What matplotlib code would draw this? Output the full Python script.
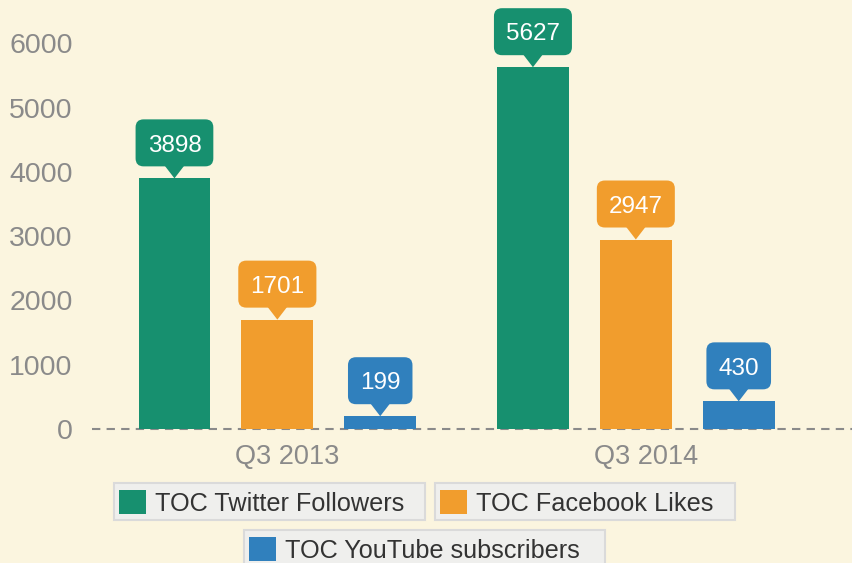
import matplotlib.pyplot as plt
import matplotlib.transforms as mtransforms
from matplotlib.patches import Polygon, FancyBboxPatch, Rectangle
import numpy as np

plt.rcParams['font.family'] = ['Liberation Sans', 'DejaVu Sans']

# data
quarters = ['Q3 2013', 'Q3 2014']
series_names = ['TOC Twitter Followers', 'TOC Facebook Likes', 'TOC YouTube subscribers']
twitter = [3898, 5627]
facebook = [1701, 2947]
youtube = [199, 430]
colors = ['#17906f', '#f19d2d', '#3080bd']

bg = '#fbf5df'
W, H = 852, 563

fig = plt.figure(figsize=(8.52, 5.63), dpi=100, facecolor=bg)
ax = fig.add_axes([92 / W, (H - 429) / H, (W - 92) / W, 429 / H])
ax.set_facecolor('none')

group_x = np.arange(len(quarters))
bar_w = 0.2
step = 0.287

ax.set_xlim(-0.517, 1.603)
ax.set_ylim(0, 6672)

renderer = fig.canvas.get_renderer()
label_fs = 17.5
em_px = label_fs * 100 / 72
gap, box_h, side_pad = 12, 47, 12

bars = []
for i, (vals, col) in enumerate(zip([twitter, facebook, youtube], colors)):
    xs = group_x + (i - 1) * step
    b = ax.bar(xs, vals, width=bar_w, color=col, zorder=2)
    bars.append(b)
    # speech bubble labels (sizes in pixels, anchored on the bar top)
    for x, v in zip(xs, vals):
        anchor = mtransforms.IdentityTransform() + mtransforms.ScaledTranslation(x, v, ax.transData)
        t = ax.annotate(str(v), xy=(x, v),
                        xytext=(0, gap + box_h / 2 - 0.358 * em_px), textcoords='offset pixels',
                        ha='center', va='baseline', fontsize=label_fs, color='white', zorder=5)
        w = t.get_window_extent(renderer=renderer).width
        box = FancyBboxPatch((-w / 2 - side_pad, gap), w + 2 * side_pad, box_h,
                             boxstyle='round,pad=0,rounding_size=8', fc=col, ec='none',
                             transform=anchor, zorder=4, clip_on=False)
        ax.add_patch(box)
        tri = Polygon([(-10, gap + 1), (10, gap + 1), (0, 0)], closed=True, fc=col, ec='none',
                      transform=anchor, zorder=3, clip_on=False)
        ax.add_patch(tri)

ax.axhline(0, color='#8a8a8a', ls=(0, (4, 3)), lw=1.5, zorder=1, clip_on=False)

ax.set_yticks(range(0, 7000, 1000))
# category labels sit a little right of the group centre in the original
ax.set_xticks(group_x + 0.028)
ax.set_xticklabels(quarters)
ax.tick_params(axis='both', length=0, labelcolor='#8a8a8a')
ax.tick_params(axis='y', pad=14, labelsize=20.5)
ax.tick_params(axis='x', pad=11, labelsize=19.5)
for s in ax.spines.values():
    s.set_visible(False)

# one framed legend box per series: (left, top, right, bottom) in pixels
legend_boxes = [(114, 483, 425, 520), (435, 483, 735, 520), (244, 530, 605, 567)]
for b, name, (x0, y0, x1, y1) in zip(bars, series_names, legend_boxes):
    fig.patches.append(Rectangle((x0 / W, 1 - y1 / H), (x1 - x0) / W, (y1 - y0) / H,
                                 transform=fig.transFigure, fc='#efefed', ec='#dadada',
                                 lw=1.5, zorder=0))
    fig.legend(handles=[b], labels=[name], loc='center left',
               bbox_to_anchor=((x0 + 1) / W, 1 - ((y0 + y1) / 2 + 1.5) / H), borderaxespad=0,
               frameon=False, fontsize=18.2,
               handlelength=1.08, handleheight=1.08, borderpad=0.15,
               handletextpad=0.36, labelcolor='#333333')

fig.savefig('out.png', dpi=100, facecolor=bg)
